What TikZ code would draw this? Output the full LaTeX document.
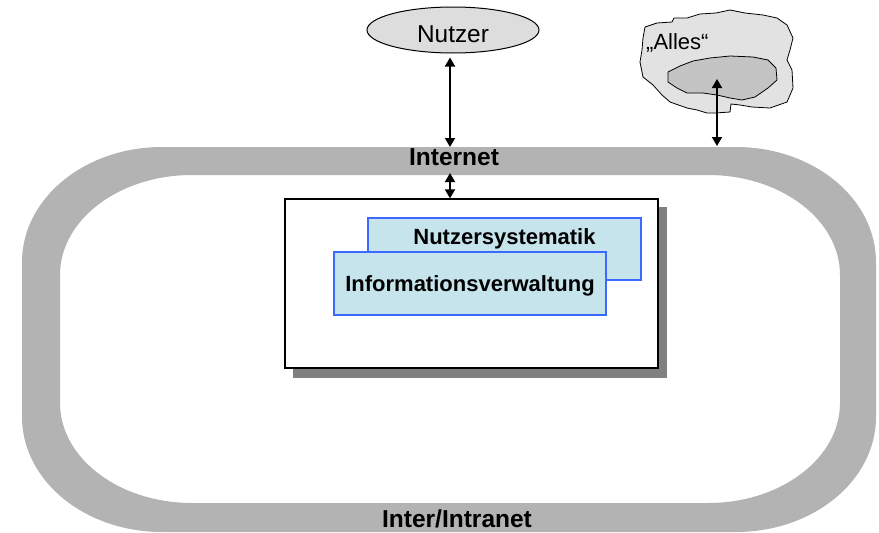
\documentclass[tikz,border=0pt]{standalone}
\usepackage{fontspec}
\setmainfont{Liberation Sans}
\usetikzlibrary{arrows.meta,shapes.geometric}

\definecolor{ringgray}{RGB}{179,179,179}
\definecolor{shadowgray}{RGB}{128,128,128}
\definecolor{ellgray}{RGB}{221,221,221}
\definecolor{cloudlight}{RGB}{226,226,226}
\definecolor{clouddark}{RGB}{196,196,196}
\definecolor{boxblue}{RGB}{60,105,255}
\definecolor{boxfill}{RGB}{198,228,236}

\tikzset{
  arr/.style={line width=1.8pt,{Triangle[width=10pt,length=9pt]}-{Triangle[width=10pt,length=9pt]}},
  ringlabel/.style={inner sep=0pt,anchor=base,font=\fontsize{24.5}{28}\selectfont\bfseries},
  bluebox/.style={draw=boxblue,fill=boxfill,line width=2pt,inner sep=0pt,anchor=north west,
    font=\fontsize{22}{26}\selectfont\bfseries},
  cloudline/.style={draw=black,line width=0.8pt,line join=round}
}

\begin{document}
\begin{tikzpicture}[x=1pt,y=-1pt]
\useasboundingbox (0,0) rectangle (879,533);

% grey ring: outer and inner rounded outlines, filled even-odd
\fill[ringgray,even odd rule]
  (162,147) -- (736,147) .. controls (813.3,147) and (876,198.5) .. (876,262)
  -- (876,417) .. controls (876,480.5) and (813.3,532) .. (736,532)
  -- (162,532) .. controls (84.7,532) and (22,480.5) .. (22,417)
  -- (22,262) .. controls (22,198.5) and (84.7,147) .. (162,147) -- cycle
  (192,175) -- (708,175) .. controls (780.9,175) and (840,219.8) .. (840,275)
  -- (840,403) .. controls (840,458.2) and (780.9,503) .. (708,503)
  -- (192,503) .. controls (119.1,503) and (60,458.2) .. (60,403)
  -- (60,275) .. controls (60,219.8) and (119.1,175) .. (192,175) -- cycle;

\node[ringlabel] (internet) at (454,165) {Internet};
\node[ringlabel] (intranet) at (457,527) {Inter/Intranet};

% user
\node[ellipse,draw,line width=1pt,fill=ellgray,minimum width=172pt,minimum height=46pt,
  inner sep=0pt,text height=24pt,text depth=0pt,font=\fontsize{24.4}{28}\selectfont]
  (nutzer) at (453,30) {Nutzer};

% "Alles" cloud with inner region
\path[cloudline,fill=cloudlight]
  (643,38) -- (645,27) -- (657,23) -- (672,22) -- (674,18) -- (687,18) -- (700,14)
  -- (716,13) -- (730,10) -- (745,13) -- (763,15) -- (777,18) -- (787,25) -- (793,38)
  -- (790,50) -- (787,60) -- (792,70) -- (793,88) -- (787,102) -- (770,108)
  -- (752,107) -- (740,105) -- (731,104) -- (730,112) -- (715,113) -- (707,113)
  -- (697,110) -- (687,108) -- (670,102) -- (662,95) -- (653,85) -- (643,77)
  -- (640,62) -- (642,50) -- cycle;
\path[cloudline,fill=clouddark]
  (668,72) -- (680,66) -- (693,61) -- (710,58) -- (730,56) -- (753,57) -- (768,60)
  -- (776,68) -- (777,80) -- (768,88) -- (755,97) -- (742,100) -- (730,98) -- (717,95)
  -- (703,93) -- (687,93) -- (677,88) -- (668,82) -- cycle;
\node[inner sep=0pt,anchor=base west,font=\fontsize{22}{26}\selectfont]
  (alles) at (646,49) {„Alles“};
\coordinate (allesin) at (717,79);
\coordinate (ringtopA) at (717,146);

% central box with shadow
\fill[shadowgray] (293,207) rectangle (667,378);
\node[draw,fill=white,line width=1.3pt,minimum width=373pt,minimum height=169pt,inner sep=0pt]
  (box) at (471.5,283.5) {};

\node[bluebox,minimum width=273pt,text height=26pt,text depth=36pt]
  (nsys) at (367,217) {Nutzersystematik};
\node[bluebox,minimum width=272pt,text height=39pt,text depth=24pt]
  (iver) at (333,251) {Informationsverwaltung};

% connectors
\coordinate (ringtopN) at (450,147);
\coordinate (ringbotN) at (450,173);
\draw[arr,shorten <=4pt] (nutzer.south -| ringtopN) -- (ringtopN);
\draw[arr] (ringbotN) -- (ringbotN |- box.north);
\draw[arr] (allesin) -- (ringtopA);
\end{tikzpicture}
\end{document}
